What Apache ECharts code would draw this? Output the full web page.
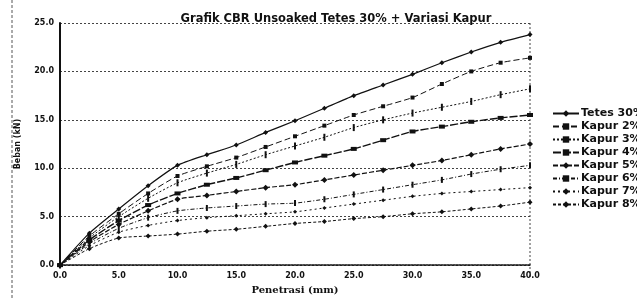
<!DOCTYPE html>
<html>
<head>
<meta charset="utf-8">
<script src="https://cdn.jsdelivr.net/npm/echarts@6/dist/echarts.min.js"></script>
<style>
  html, body { margin: 0; padding: 0; background: #fff; }
  #chart { width: 637px; height: 300px; }
</style>
</head>
<body>
<div id="chart"></div>
<script>
// ── Data ──────────────────────────────────────────────────────────────────
const penetrasi = [0, 2.5, 5, 7.5, 10, 12.5, 15, 17.5, 20, 22.5, 25, 27.5, 30, 32.5, 35, 37.5, 40];

const seriesNames = ['Tetes 30%', 'Kapur 2%', 'Kapur 3%', 'Kapur 4%', 'Kapur 5%', 'Kapur 6%', 'Kapur 7%', 'Kapur 8%'];

const tetes30 = [0, 3.3, 5.8, 8.2, 10.3, 11.4, 12.4, 13.7, 14.9, 16.2, 17.5, 18.6, 19.7, 20.9, 22.0, 23.0, 23.8];
const kapur2  = [0, 3.0, 5.3, 7.4, 9.2, 10.2, 11.1, 12.2, 13.3, 14.4, 15.5, 16.4, 17.3, 18.7, 20.0, 20.9, 21.4];
const kapur3  = [0, 2.8, 5.0, 6.9, 8.5, 9.5, 10.4, 11.4, 12.3, 13.2, 14.2, 15.0, 15.7, 16.3, 16.9, 17.6, 18.2];
const kapur4  = [0, 2.6, 4.6, 6.2, 7.4, 8.3, 9.0, 9.8, 10.6, 11.3, 12.0, 12.9, 13.8, 14.3, 14.8, 15.2, 15.5];
const kapur5  = [0, 2.4, 4.2, 5.6, 6.8, 7.2, 7.6, 8.0, 8.3, 8.8, 9.3, 9.8, 10.3, 10.8, 11.4, 12.0, 12.5];
const kapur6  = [0, 2.2, 3.8, 4.9, 5.6, 5.9, 6.1, 6.3, 6.4, 6.8, 7.3, 7.8, 8.3, 8.8, 9.4, 9.9, 10.3];
const kapur7  = [0, 2.0, 3.4, 4.1, 4.6, 4.9, 5.1, 5.3, 5.5, 5.9, 6.3, 6.7, 7.1, 7.4, 7.6, 7.8, 8.0];
const kapur8  = [0, 1.7, 2.8, 3.0, 3.2, 3.5, 3.7, 4.0, 4.3, 4.5, 4.8, 5.0, 5.3, 5.5, 5.8, 6.1, 6.5];

const yTicks = [0, 5, 10, 15, 20, 25];
const xTicks = [0, 5, 10, 15, 20, 25, 30, 35, 40];

const seriesValues = [tetes30, kapur2, kapur3, kapur4, kapur5, kapur6, kapur7, kapur8];

// ── Per-series look (all black, varied markers / dashes like the print) ──
const LOOK = [
  { symbol: 'diamond',  size: 5,      line: 'solid',    width: 1.2 },
  { symbol: 'rect',     size: 4,      line: [6, 3],     width: 1 },
  { symbol: 'rect',     size: [2, 7], line: [2, 2],     width: 1 },
  { symbol: 'rect',     size: [6, 4], line: [8, 2],     width: 1.4 },
  { symbol: 'diamond',  size: 6,      line: [5, 2],     width: 1.2 },
  { symbol: 'rect',     size: [2, 6], line: [4, 2, 1, 2], width: 1 },
  { symbol: 'diamond',  size: 4,      line: [2, 3],     width: 1 },
  { symbol: 'diamond',  size: 5,      line: [3, 2],     width: 1 },
];

const INK = '#111';

const chart = echarts.init(document.getElementById('chart'));

const series = seriesNames.map((name, i) => ({
  name,
  type: 'line',
  data: penetrasi.map((x, j) => [x, seriesValues[i][j]]),
  symbol: LOOK[i].symbol,
  symbolSize: LOOK[i].size,
  smooth: 0.2,
  lineStyle: { color: INK, width: LOOK[i].width, type: LOOK[i].line },
  itemStyle: { color: INK },
  animation: false,
}));

chart.setOption({
  backgroundColor: '#fff',
  animation: false,
  title: {
    text: 'Grafik CBR Unsoaked Tetes 30% + Variasi Kapur',
    left: 331,
    textAlign: 'center',
    top: 8,
    textStyle: { fontFamily: 'DejaVu Sans', fontSize: 11.5, fontWeight: 'bold', color: INK },
  },
  legend: {
    orient: 'vertical',
    left: 547,
    top: 103,
    itemGap: 2,
    itemWidth: 26,
    itemHeight: 8,
    textStyle: { fontFamily: 'DejaVu Sans', fontSize: 11, fontWeight: 'bold', color: INK, padding: [0, 0, 0, -3] },
    data: seriesNames,
  },
  grid: { left: 60, right: 107, top: 23, bottom: 23 },
  xAxis: {
    type: 'value',
    min: xTicks[0],
    max: xTicks[xTicks.length - 1],
    interval: 5,
    name: 'Penetrasi (mm)',
    nameLocation: 'middle',
    nameGap: 17,
    nameTextStyle: { fontFamily: 'DejaVu Serif', fontSize: 10, fontWeight: 'bold', color: INK },
    axisLine: { lineStyle: { color: INK, width: 1.5, type: [2, 1] } },
    axisTick: { show: false },
    splitLine: { show: false },
    axisLabel: {
      fontFamily: 'DejaVu Sans', fontSize: 8, fontWeight: 'bold', color: INK, margin: 7,
      formatter: (v) => v.toFixed(1),
    },
  },
  yAxis: {
    type: 'value',
    min: yTicks[0],
    max: yTicks[yTicks.length - 1],
    interval: 5,
    name: 'Beban (kN)',
    nameLocation: 'middle',
    nameGap: 38,
    nameTextStyle: { fontFamily: 'DejaVu Sans', fontSize: 8, fontWeight: 'bold', color: INK },
    axisLine: { show: true, lineStyle: { color: INK, width: 2 } },
    axisTick: { show: false },
    splitLine: { show: true, lineStyle: { color: '#444', width: 1, type: [2, 2] } },
    axisLabel: {
      fontFamily: 'DejaVu Sans', fontSize: 8, fontWeight: 'bold', color: INK, margin: 6,
      formatter: (v) => v.toFixed(1),
    },
  },
  graphic: [
    // scanned frame edge on the left and dotted plot border on the right
    { type: 'line', shape: { x1: 12, y1: 0, x2: 12, y2: 300 }, style: { stroke: '#555', lineWidth: 1, lineDash: [3, 2] } },
    { type: 'line', shape: { x1: 530, y1: 23, x2: 530, y2: 277 }, style: { stroke: '#444', lineWidth: 1, lineDash: [2, 2] } },
  ],
  series,
});
</script>
</body>
</html>
